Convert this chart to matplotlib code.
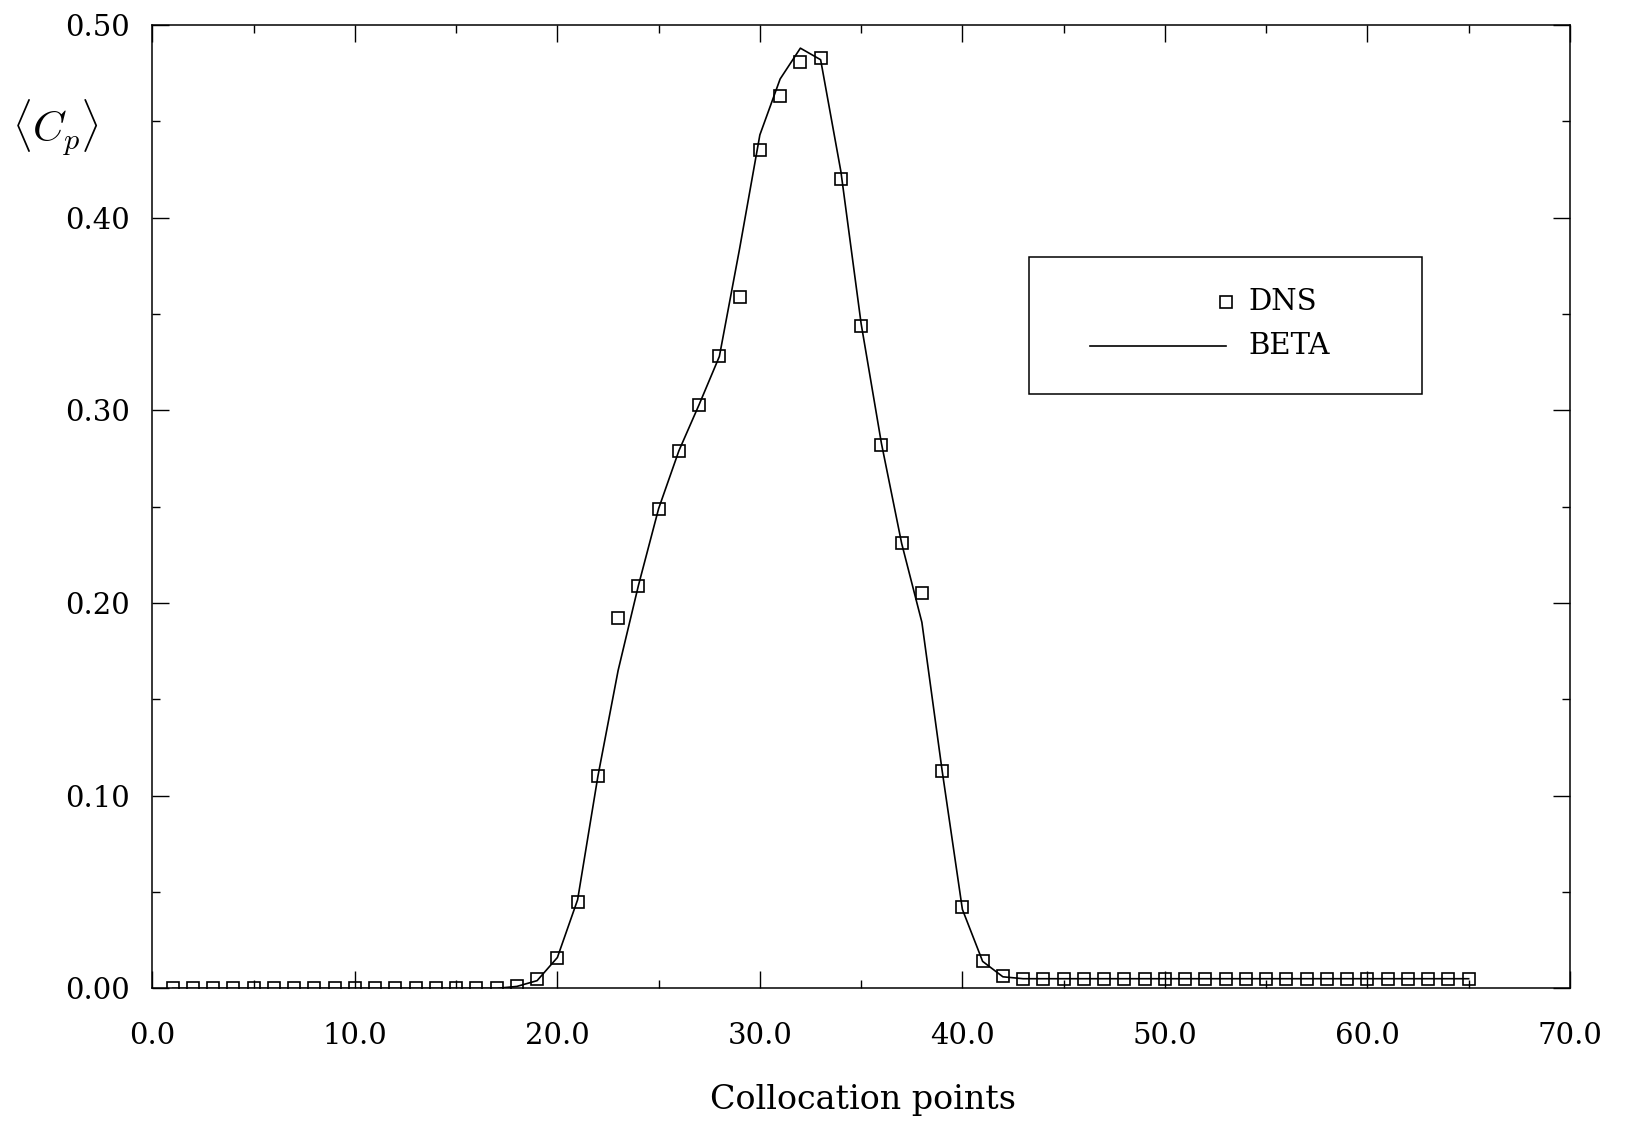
import matplotlib
matplotlib.use("Agg")
import matplotlib.pyplot as plt
from matplotlib.lines import Line2D
from matplotlib.patches import Rectangle
from matplotlib.ticker import MultipleLocator, FormatStrFormatter

# Collocation point index
points = list(range(1, 66))

# DNS pressure-coefficient samples at each collocation point
dns_cp = [0.000, 0.000, 0.000, 0.000, 0.000, 0.000, 0.000, 0.000, 0.000, 0.000,
          0.000, 0.000, 0.000, 0.000, 0.000, 0.000, 0.000, 0.001, 0.005, 0.016,
          0.045, 0.110, 0.192, 0.209, 0.249, 0.279, 0.303, 0.328, 0.359, 0.435,
          0.463, 0.481, 0.483, 0.420, 0.344, 0.282, 0.231, 0.205, 0.113, 0.042,
          0.014, 0.0065, 0.005, 0.005, 0.005, 0.005, 0.005, 0.005, 0.005, 0.005,
          0.005, 0.005, 0.005, 0.005, 0.005, 0.005, 0.005, 0.005, 0.005, 0.005,
          0.005, 0.005, 0.005, 0.005, 0.005]

# BETA model prediction at the same points
beta_cp = [0.000, 0.000, 0.000, 0.000, 0.000, 0.000, 0.000, 0.000, 0.000, 0.000,
           0.000, 0.000, 0.000, 0.000, 0.000, 0.000, 0.000, 0.001, 0.004, 0.016,
           0.046, 0.110, 0.165, 0.209, 0.249, 0.279, 0.303, 0.328, 0.384, 0.443,
           0.472, 0.488, 0.482, 0.424, 0.345, 0.283, 0.231, 0.190, 0.113, 0.041,
           0.014, 0.006, 0.005, 0.005, 0.005, 0.005, 0.005, 0.005, 0.005, 0.005,
           0.005, 0.005, 0.005, 0.005, 0.005, 0.005, 0.005, 0.005, 0.005, 0.005,
           0.005, 0.005, 0.005, 0.005, 0.005]

x_ticks = [0, 10, 20, 30, 40, 50, 60, 70]
y_ticks = [0.0, 0.1, 0.2, 0.3, 0.4, 0.5]

plt.rcParams["mathtext.fontset"] = "cm"
tick_font = "DejaVu Serif"

fig = plt.figure(figsize=(16.26, 11.23), dpi=100)
ax = fig.add_axes([0.0937, 0.1199, 0.8718, 0.8578])

ax.plot(points, beta_cp, color="black", lw=1.2, zorder=2)
ax.plot(points, dns_cp, linestyle="none", marker="s", markersize=9,
        markerfacecolor="none", markeredgecolor="black", markeredgewidth=1.2,
        zorder=3)

ax.set_xlim(0, 70)
ax.set_ylim(0, 0.5)
ax.set_xticks(x_ticks)
ax.set_yticks(y_ticks)
ax.xaxis.set_minor_locator(MultipleLocator(5))
ax.yaxis.set_minor_locator(MultipleLocator(0.05))
ax.xaxis.set_major_formatter(FormatStrFormatter("%.1f"))
ax.yaxis.set_major_formatter(FormatStrFormatter("%.2f"))

ax.tick_params(which="both", direction="in", top=True, right=True,
               color="black", width=1.0)
ax.tick_params(which="major", length=12)
ax.tick_params(which="minor", length=6)
ax.tick_params(axis="x", which="major", pad=24, labelsize=21)
ax.tick_params(axis="y", which="major", pad=16, labelsize=21)
for lab in ax.get_xticklabels() + ax.get_yticklabels():
    lab.set_fontfamily(tick_font)

for s in ax.spines.values():
    s.set_linewidth(1.1)

# Legend box drawn in axes coordinates
ax.add_patch(Rectangle((0.6186, 0.6169), 0.8954 - 0.6186, 0.7588 - 0.6169,
                       transform=ax.transAxes, fill=False, edgecolor="black",
                       lw=1.1, zorder=4))
ax.add_line(Line2D([0.7571], [0.7121], transform=ax.transAxes, marker="s",
                   markersize=8, markerfacecolor="none", markeredgecolor="black",
                   markeredgewidth=1.2, linestyle="none", zorder=5))
ax.add_line(Line2D([0.6614, 0.7571], [0.6668, 0.6668], transform=ax.transAxes,
                   color="black", lw=1.2, zorder=5))
ax.text(0.7729, 0.7121, "DNS", transform=ax.transAxes, va="center", ha="left",
        fontsize=21, family="DejaVu Serif")
ax.text(0.7729, 0.6668, "BETA", transform=ax.transAxes, va="center", ha="left",
        fontsize=21, family="DejaVu Serif")

fig.text(0.034, 0.886, r"$\langle C_p \rangle$", fontsize=31, ha="center",
         va="center")
fig.text(0.531, 0.0205, "Collocation points", fontsize=24, family="DejaVu Serif",
         ha="center", va="center")

fig.savefig("out.png", dpi=100)
